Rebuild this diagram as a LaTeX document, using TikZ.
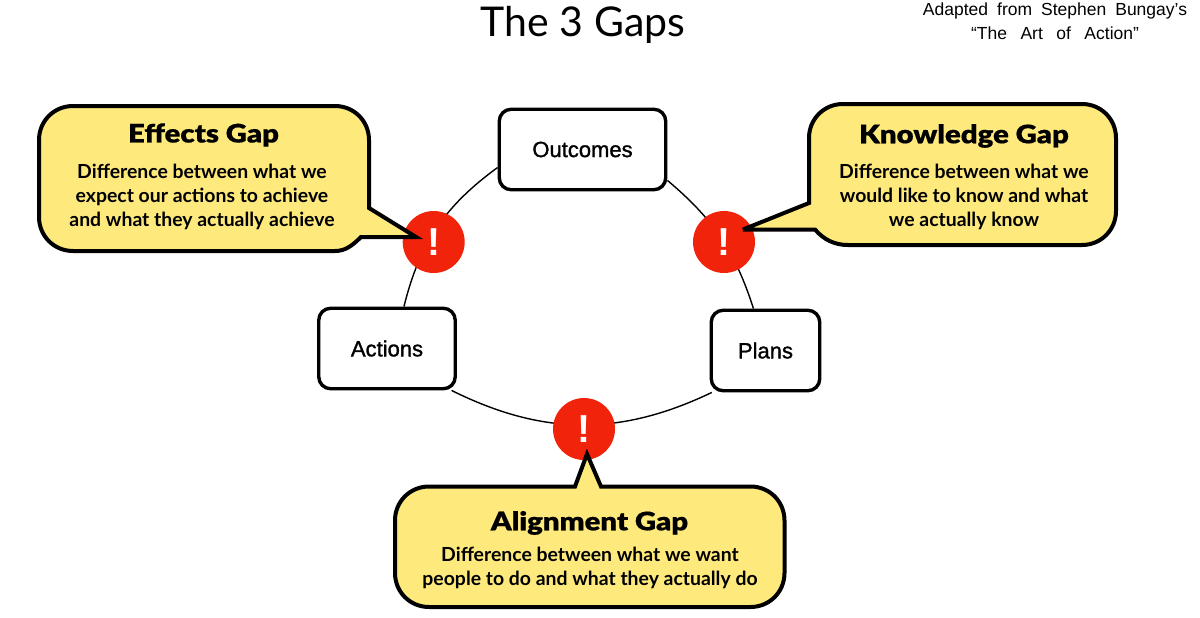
\documentclass[tikz,border=0pt]{standalone}
\usepackage{fontspec}
\setmainfont{Liberation Sans}
\newfontfamily\titlefont{Lato}
\newfontfamily\gapfont[FakeStretch=1.15,FakeBold=0.5]{Lato Black}
\newfontfamily\bodyfont{Lato Bold}
\newfontfamily\boxfont[FakeBold=1.3]{Liberation Sans}
\usetikzlibrary{backgrounds}
\definecolor{calloutyellow}{HTML}{FEE97C}
\definecolor{gapred}{HTML}{F1230B}
\tikzset{
  stagebox/.style={draw=black,fill=white,line width=3.4pt,rounded corners=12pt,minimum height=80.5pt,inner sep=0pt,font=\boxfont\fontsize{22}{24}\selectfont},
  gapdot/.style={circle,fill=gapred,draw=none,minimum size=62pt,inner sep=0pt,text=white,font=\bfseries\fontsize{39}{39}\selectfont},
  flow/.style={draw=black,line width=1.4pt},
  callout/.style={draw=black,fill=calloutyellow,line width=4pt,line join=miter},
  gaptitle/.style={inner sep=0pt,font=\gapfont\fontsize{25.5}{28}\selectfont},
  gapbody/.style={inner sep=0pt,align=center,font=\bodyfont\fontsize{19.4}{24}\selectfont},
}
\begin{document}
\begin{tikzpicture}[x=1pt,y=-1pt]
\useasboundingbox (0,0) rectangle (1200,618);
\node[inner sep=0pt,font=\titlefont\fontsize{41}{44}\selectfont] (title) at (583,25) {The 3 Gaps};
\node[inner sep=0pt,align=center,font=\fontsize{17.5}{23.5}\selectfont] (credit) at (1055,21) {Adapted\hspace{9pt}from\hspace{9pt}Stephen\hspace{9pt}Bungay’s\\“The\hspace{13.5pt}Art\hspace{13.5pt}of\hspace{13.5pt}Action”};

\node[stagebox,minimum width=166.5pt] (outcomes) at (582.5,149.5) {Outcomes};
\node[stagebox,minimum width=136.5pt] (actions) at (387,348.5) {Actions};
\node[stagebox,minimum width=108.5pt] (plans) at (765.5,350.5) {Plans};

\node[gapdot] (gapl) at (433.7,242) {\raisebox{-3.5pt}{!}};
\node[gapdot] (gapr) at (724,242) {\raisebox{-3.5pt}{!}};
\node[gapdot] (gapb) at (584,429) {\raisebox{-3.5pt}{!}};

\begin{pgfonlayer}{background}
\draw[flow] (outcomes.192) to[bend right=20] (actions.68);
\draw[flow] (outcomes.-20.6) to[bend left=16] (plans.106);
\draw[flow] (actions.-33.8) to[bend right=26] (plans.218);
\end{pgfonlayer}

% Effects callout
\draw[callout] (369,208) -- (416,237) -- (361,237) .. controls (352,246) and (345,251) .. (335,251) -- (73,251) .. controls (54,251) and (39,236) .. (39,217) -- (39,140) .. controls (39,121) and (54,106) .. (73,106) -- (335,106) .. controls (354,106) and (369,121) .. (369,140) -- cycle;
% Knowledge callout
\draw[callout,miter limit=2] (809,203) -- (743,229.5) -- (815,229.5) .. controls (824,240) and (835,245) .. (848,245) -- (1082,245) .. controls (1101,245) and (1116,230) .. (1116,211) -- (1116,138) .. controls (1116,119) and (1101,104) .. (1082,104) -- (843,104) .. controls (824,104) and (809,119) .. (809,138) -- cycle;
% Alignment callout
\draw[callout] (575,486.5) -- (587,454) -- (601,486.5) -- (750.5,486.5) .. controls (769.5,486.5) and (784.5,501.5) .. (784.5,520.5) -- (784.5,573) .. controls (784.5,592) and (769.5,607) .. (750.5,607) -- (429,607) .. controls (410,607) and (395,592) .. (395,573) -- (395,520.5) .. controls (395,501.5) and (410,486.5) .. (429,486.5) -- cycle;

\node[gaptitle] (efft) at (203.5,135) {Effects Gap};
\node[gapbody] (effb) at (202,196.5) {Difference between what we\\expect our actions to achieve\\and what they actually achieve};
\node[gaptitle] (knot) at (964,136) {Knowledge Gap};
\node[gapbody] (knob) at (964,196.5) {Difference between what we\\would like to know and what\\we actually know};
\node[gaptitle] (alit) at (589.5,523) {Alignment Gap};
\node[gapbody] (alib) at (590,568) {Difference between what we want\\people to do and what they actually do};
\end{tikzpicture}
\end{document}
